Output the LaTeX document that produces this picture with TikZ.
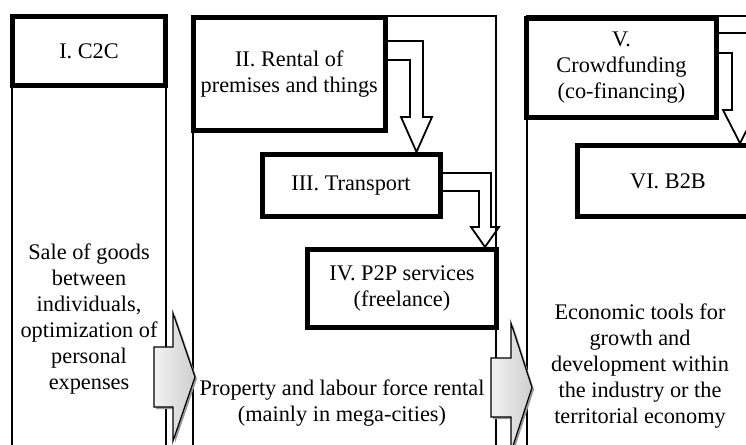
\documentclass[tikz,border=0pt]{standalone}
\usepackage{fontspec}
\setmainfont{Liberation Serif}
\usetikzlibrary{shadows}
\begin{document}
\begin{tikzpicture}[x=1pt, y=-1pt,
  font=\fontsize{22.3}{26}\selectfont,
  stagebox/.style={draw, line width=5pt, inner sep=0pt, align=center},
  colline/.style={draw, line width=1.3pt},
  hollow/.style={draw, line width=1.8pt, line join=miter},
  blockarrow/.style={draw, line width=1.2pt, left color=gray!10, right color=gray!38,
    drop shadow={shadow xshift=2pt, shadow yshift=-2pt, fill=black!40, opacity=1}}]
\useasboundingbox (0,0) rectangle (746,444);
\clip (0,0) rectangle (746,444);

% three columns
\draw[colline] (12,17) rectangle (166,480);
\draw[colline] (193,16) rectangle (496,480);
\draw[colline] (527,16) rectangle (790,480);

% stage boxes
\node[stagebox, minimum width=153, minimum height=68] (c2c) at (89,51) {I. C2C};
\node[stagebox, minimum width=191.5, minimum height=112.5] (rent) at (289.25,73.75) {II. Rental of\\premises and things};
\node[stagebox, minimum width=178, minimum height=61.5] (trans) at (351,185.25) {III. Transport};
\node[stagebox, minimum width=189, minimum height=78] (p2p) at (402,288.5) {IV. P2P services\\(freelance)};
\node[stagebox, minimum width=190, minimum height=99] (crowd) at (621.5,68) {V.\\Crowdfunding\\(co-financing)};
\node[stagebox, minimum width=181, minimum height=70.5] (b2b) at (668,181) {VI. B2B};

% column texts
\node[align=center] (sale) at (89,319) {Sale of goods\\between\\individuals,\\optimization of\\personal\\expenses};
\node[align=center] (prop) at (342,403) {Property and labour force rental\\(mainly in mega-cities)};
\node[align=center] (econ) at (640,366) {Economic tools for\\growth and\\development within\\the industry or the\\territorial economy};

% hollow elbow arrows
\draw[hollow] (rent.east |- 0,41) -- (423,41) -- (423,117) -- (432,117) -- (trans.north -| 416.5,0)
  -- (401,117) -- (410,117) -- (410,60) -- (rent.east |- 0,60);
\draw[hollow] (trans.east |- 0,173) -- (491,173) -- (491,227) -- (499,227) -- (p2p.north -| 485,0)
  -- (471,227) -- (479,227) -- (479,191) -- (trans.east |- 0,191);
\draw[hollow] (crowd.east |- 0,33) -- (748,33) -- (748,110) -- (757,110) -- (b2b.north -| 740,0)
  -- (723,110) -- (732,110) -- (732,53) -- (crowd.east |- 0,53);

% grey block arrows between the columns
\path[blockarrow] (154,347) -- (173,347) -- (173,313) -- (195,377) -- (173,441) -- (173,407) -- (154,407) -- cycle;
\path[blockarrow] (491,358) -- (511,358) -- (511,323) -- (532,387.5) -- (511,452) -- (511,417) -- (491,417) -- cycle;
\end{tikzpicture}
\end{document}
